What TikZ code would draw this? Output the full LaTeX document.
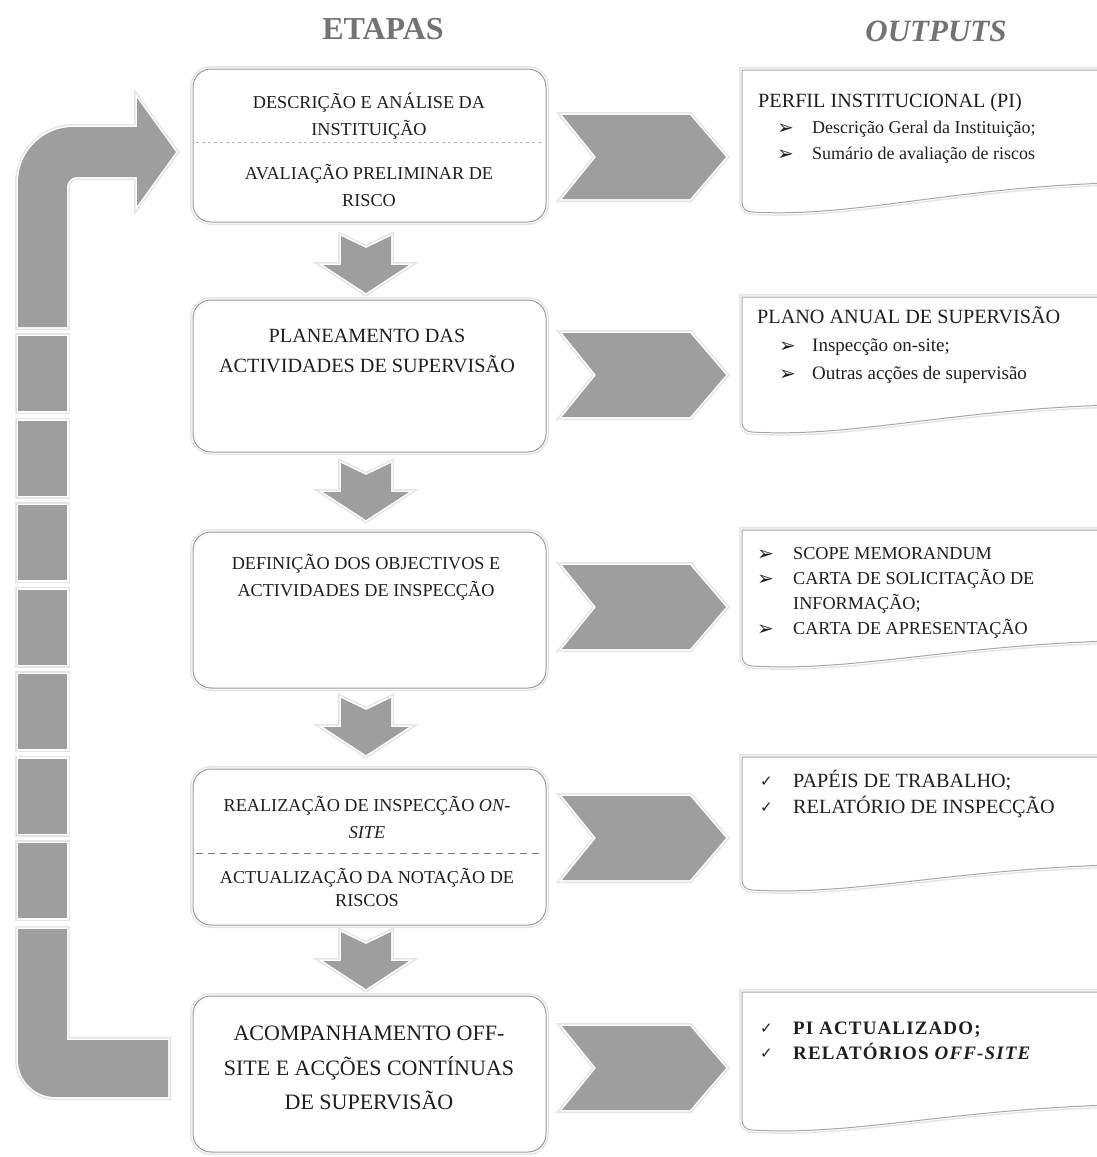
\documentclass[tikz,border=0pt]{standalone}
\usepackage{fontspec}
\setmainfont{Liberation Serif}
\newfontfamily\dejavu{DejaVu Sans}
\newfontfamily\spacedbold[LetterSpace=6]{Liberation Serif}
\begin{document}
\begin{tikzpicture}[x=1pt,y=-1pt,
  glow/.style={preaction={draw=black!10,line width=6pt},preaction={draw=white,line width=3pt}},
  stepbox/.style={draw=black!40,line width=1pt,fill=white,rounded corners=18pt,glow,inner sep=0pt},
  blockarrow/.style={fill=black!38,draw=none,glow},
  outbox/.style={draw=black!35,line width=1pt,fill=white,glow},
  lt/.style={anchor=base,inner sep=0pt,text=black!88},
  rt/.style={anchor=base west,inner sep=0pt,text=black!88},
  bul/.style={anchor=base west,inner sep=0pt,text=black!88,font=\dejavu\fontsize{20}{20}\selectfont},
  chk/.style={anchor=base west,inner sep=0pt,text=black!88,font=\dejavu\fontsize{15}{15}\selectfont},
  sA/.style={font=\fontsize{18.2}{18.2}\selectfont},
  sB/.style={font=\fontsize{20.2}{20.2}\selectfont},
  sC/.style={font=\fontsize{22}{22}\selectfont},
  oS/.style={font=\fontsize{18}{18}\selectfont},
  oT/.style={font=\fontsize{19}{19}\selectfont},
  ]
\useasboundingbox (0,0) rectangle (1096,1157);
\fill[white] (0,0) rectangle (1096,1157);

% titles
\node[anchor=base,inner sep=0pt,text=black!55,font=\fontsize{32}{32}\selectfont\bfseries] (etapas) at (383,39) {ETAPAS};
\node[anchor=base,inner sep=0pt,text=black!55,font=\fontsize{31}{31}\selectfont\bfseries\itshape] (outputs) at (936,41) {OUTPUTS};

% feedback arrow on the left
\path[blockarrow] (18,327) -- (18,182) .. controls (18,152) and (43,127) .. (73,127) -- (137,127) -- (137,98) -- (176,152) -- (137,206) -- (137,177) -- (77,177) .. controls (71.5,177) and (67,181.5) .. (67,187) -- (67,327) -- cycle;
\foreach \k in {0,...,6}{
  \path[blockarrow] (18,336+84.5*\k) rectangle (67,411+84.5*\k);
}
\path[blockarrow] (18,929) -- (18,1060) .. controls (18,1080) and (35,1097) .. (55,1097) -- (168,1097) -- (168,1040) -- (67,1040) -- (67,929) -- cycle;

% step boxes
\node[stepbox,minimum width=353pt,minimum height=153pt] (b1) at (369.5,145.5) {};
\node[stepbox,minimum width=353pt,minimum height=152pt] (b2) at (369.5,376) {};
\node[stepbox,minimum width=353pt,minimum height=156pt] (b3) at (369.5,610) {};
\node[stepbox,minimum width=353pt,minimum height=156pt] (b4) at (369.5,847) {};
\node[stepbox,minimum width=353pt,minimum height=156pt] (b5) at (369.5,1074) {};

\draw[dashed,black!30,line width=0.8pt] (196,142) -- (543,142);
\draw[dashed,black!55,line width=0.8pt,dash pattern=on 7pt off 5pt] (196,853) -- (543,853);

% down arrows
\foreach \yt in {236,463,698,932}{
  \path[blockarrow] (341,\yt) -- (366,\yt+12) -- (391,\yt) -- (391,\yt+29) -- (409,\yt+29) -- (366,\yt+57) -- (323,\yt+29) -- (341,\yt+29) -- cycle;
}

% chevrons
\foreach \cy in {157,375,607,838,1068}{
  \path[blockarrow] (562,\cy-42) -- (690,\cy-42) -- (726,\cy) -- (690,\cy+42) -- (562,\cy+42) -- (596,\cy) -- cycle;
}

% output boxes
\foreach \t/\bl/\br in {70/212/186, 297/432/408, 530/666/644, 757/890/868, 992/1130/1108}{
  \path[outbox] (1110,\t) -- (742,\t) -- (742,\bl-10) .. controls (742,\bl-4) and (746,\bl) .. (752,\bl) .. controls (850,\bl+6) and (950,\br+2) .. (1110,\br-3) -- cycle;
}

% step texts
\node[lt,sA] (t1a) at (369,108) {DESCRIÇÃO E ANÁLISE DA};
\node[lt,sA] (t1b) at (369,135) {INSTITUIÇÃO};
\node[lt,sA] (t1c) at (369,179) {AVALIAÇÃO PRELIMINAR DE};
\node[lt,sA] (t1d) at (369,206) {RISCO};

\node[lt,sB] (t2a) at (367,342) {PLANEAMENTO DAS};
\node[lt,sB] (t2b) at (367,372) {ACTIVIDADES DE SUPERVISÃO};

\node[lt,sA] (t3a) at (366,569) {DEFINIÇÃO DOS OBJECTIVOS E};
\node[lt,sA] (t3b) at (366,596) {ACTIVIDADES DE INSPECÇÃO};

\node[lt,sA] (t4a) at (367,811) {REALIZAÇÃO DE INSPECÇÃO \textit{ON-}};
\node[lt,sA] (t4b) at (367,838) {\textit{SITE}};
\node[lt,sA] (t4c) at (367,883) {ACTUALIZAÇÃO DA NOTAÇÃO DE};
\node[lt,sA] (t4d) at (367,906) {RISCOS};

\node[lt,sC] (t5a) at (369,1040) {ACOMPANHAMENTO OFF-};
\node[lt,sC] (t5b) at (369,1075) {SITE E ACÇÕES CONTÍNUAS};
\node[lt,sC] (t5c) at (369,1109) {DE SUPERVISÃO};

% output texts
\node[rt,sB] (o1t) at (758,107) {PERFIL INSTITUCIONAL (PI)};
\node[bul] (o1p) at (777,134) {➢};
\node[rt,oS] (o1a) at (812,133) {Descrição Geral da Instituição;};
\node[bul] (o1q) at (777,160) {➢};
\node[rt,oS] (o1b) at (812,159) {Sumário de avaliação de riscos};

\node[rt,sB] (o2t) at (757,323) {PLANO ANUAL DE SUPERVISÃO};
\node[bul] (o2p) at (779,352) {➢};
\node[rt,oT] (o2a) at (812,351) {Inspecção on-site;};
\node[bul] (o2q) at (779,380) {➢};
\node[rt,oT] (o2b) at (812,379) {Outras acções de supervisão};

\node[bul] (o3p) at (757,560) {➢};
\node[rt,sA] (o3a) at (793,559) {SCOPE MEMORANDUM};
\node[bul] (o3q) at (757,585) {➢};
\node[rt,sA] (o3b) at (793,584) {CARTA DE SOLICITAÇÃO DE};
\node[rt,sA] (o3c) at (793,609) {INFORMAÇÃO;};
\node[bul] (o3r) at (757,635) {➢};
\node[rt,sA] (o3d) at (793,634) {CARTA DE APRESENTAÇÃO};

\node[chk] (o4p) at (760,786) {✓};
\node[rt,sB] (o4a) at (793,787) {PAPÉIS DE TRABALHO;};
\node[chk] (o4q) at (760,812) {✓};
\node[rt,sB] (o4b) at (793,813) {RELATÓRIO DE INSPECÇÃO};

\node[chk] (o5p) at (760,1033) {✓};
\node[rt,font=\spacedbold\bfseries\fontsize{19}{19}\selectfont] (o5a) at (793,1034) {PI ACTUALIZADO;};
\node[chk] (o5q) at (760,1058) {✓};
\node[rt,font=\spacedbold\bfseries\fontsize{19}{19}\selectfont] (o5b) at (793,1059) {RELATÓRIOS \textit{OFF-SITE}};
\end{tikzpicture}
\end{document}
